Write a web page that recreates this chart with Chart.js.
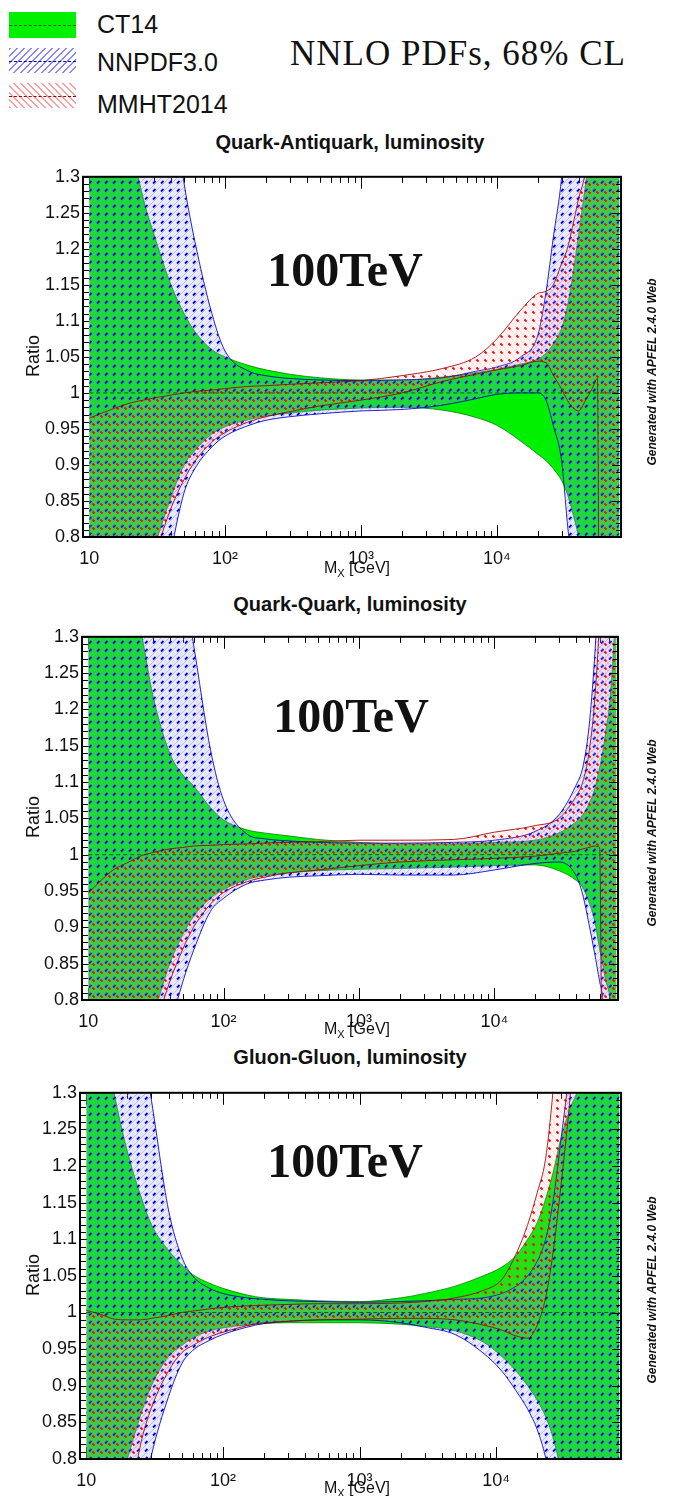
<!DOCTYPE html>
<html>
<head>
<meta charset="utf-8">
<title>NNLO PDFs, 68% CL - 100 TeV luminosity ratios</title>
<script src="https://cdn.jsdelivr.net/npm/chart.js@4.4.1/dist/chart.umd.min.js"></script>
<style>
  html, body { margin: 0; padding: 0; background: #fff; }
  body { position: relative; width: 684px; height: 1496px; overflow: hidden;
         font-family: "Liberation Sans", Arial, sans-serif; color: #111; }
  canvas { position: absolute; left: 0; }
  .t { position: absolute; white-space: nowrap; line-height: 1; }
  .swatch { position: absolute; left: 9px; width: 67px; }
  .swatch i { position: absolute; left: 0; right: 0; top: 50%; border-top: 1.5px dashed; }
  .legend { left: 97px; font-size: 25px; }
  .nnlo { left: 290px; top: 34px; font: 35px "Liberation Serif", serif; letter-spacing: 1px; }
  .title { left: 350px; font-size: 20px; font-weight: bold; transform: translateX(-50%); }
  .energy { font: bold 48px "Liberation Serif", serif; transform: translateX(-50%); }
  .ratio { left: 33px; font-size: 18px; transform: translate(-50%, -50%) rotate(-90deg); }
  .mx { left: 357px; font-size: 16px; transform: translate(-50%, -50%); }
  .mx sub { font-size: 11px; vertical-align: -4px; }
  .apfel { left: 652px; font: italic bold 12px "Liberation Sans", Arial, sans-serif;
           transform: translate(-50%, -50%) rotate(-90deg); }
</style>
</head>
<body>

<div class="swatch" style="top:12px;height:26px;background:rgb(0,240,0)"><i style="border-color:#1f5f1f"></i></div>
<div class="swatch" style="top:48px;height:25px;background:repeating-linear-gradient(135deg,rgba(70,70,255,.65) 0 1.5px,rgba(255,255,255,0) 1.5px 5px)"><i style="border-color:#0000c0"></i></div>
<div class="swatch" style="top:83px;height:25px;background:repeating-linear-gradient(45deg,rgba(255,90,90,.6) 0 1.5px,rgba(255,255,255,0) 1.5px 5px)"><i style="border-color:#a00000"></i></div>
<div class="t legend" style="top:12px">CT14</div>
<div class="t legend" style="top:50px">NNPDF3.0</div>
<div class="t legend" style="top:92px">MMHT2014</div>
<div class="t nnlo">NNLO PDFs, 68% CL</div>

<canvas id="qqbar" width="684" height="411" style="top:163px"></canvas>
<canvas id="qq" width="684" height="414" style="top:623px"></canvas>
<canvas id="gg" width="684" height="417" style="top:1079px"></canvas>

<div class="t title" style="top:132px">Quark-Antiquark, luminosity</div>
<div class="t title" style="top:594px">Quark-Quark, luminosity</div>
<div class="t title" style="top:1047px">Gluon-Gluon, luminosity</div>

<div class="t energy" style="left:345px;top:242px">100TeV</div>
<div class="t energy" style="left:351px;top:688px">100TeV</div>
<div class="t energy" style="left:345px;top:1133px">100TeV</div>

<div class="t ratio" style="top:356px">Ratio</div>
<div class="t ratio" style="top:817px">Ratio</div>
<div class="t ratio" style="top:1275px">Ratio</div>

<div class="t mx" style="top:569px">M<sub>X</sub> [GeV]</div>
<div class="t mx" style="top:1030px">M<sub>X</sub> [GeV]</div>
<div class="t mx" style="top:1489px">M<sub>X</sub> [GeV]</div>

<div class="t apfel" style="top:372px">Generated with APFEL 2.4.0 Web</div>
<div class="t apfel" style="top:833px">Generated with APFEL 2.4.0 Web</div>
<div class="t apfel" style="top:1290px">Generated with APFEL 2.4.0 Web</div>

<script>
// ---------- axes ----------
const massDecades = [10, 100, 1000, 10000];
const massDecadeLabels = ['10', '10\u00b2', '10\u00b3', '10\u2074'];
const ratioTicks = [0.8, 0.85, 0.9, 0.95, 1, 1.05, 1.1, 1.15, 1.2, 1.25, 1.3];
const ratioTickLabels = ['0.8', '0.85', '0.9', '0.95', '1', '1.05', '1.1', '1.15', '1.2', '1.25', '1.3'];
const ct14Ratio = 1; // CT14 central value, ratio to itself

// ---------- Quark-Antiquark ----------
const qqbarMass = [10, 15, 20, 25, 30, 40, 50, 60, 80, 100, 150, 200, 300, 500, 1000, 2000, 4000, 7000,
  10000, 15000, 20000, 23000, 26000, 30000, 33000, 36000, 40000, 45000, 50000, 55000, 57000, 65000, 80000];
const qqbarCT14Up = [1.80, 1.55, 1.36, 1.27, 1.22, 1.15, 1.11, 1.085, 1.06, 1.05, 1.038, 1.032, 1.026, 1.021, 1.018, 1.018, 1.022, 1.028,
  1.033, 1.04, 1.047, 1.055, 1.068, 1.09, 1.12, 1.16, 1.22, 1.29, 1.36, 1.45, 1.5, 1.6, 1.8];
const qqbarCT14Low = [0.55, 0.62, 0.68, 0.74, 0.785, 0.855, 0.9, 0.92, 0.943, 0.953, 0.963, 0.968, 0.972, 0.976, 0.979, 0.98, 0.976, 0.966,
  0.955, 0.933, 0.915, 0.906, 0.895, 0.878, 0.86, 0.835, 0.8, 0.75, 0.7, 0.65, 0.62, 0.55, 0.5];
const qqbarNNPDFUp = [2.5, 2.2, 1.9, 1.75, 1.6, 1.42, 1.29, 1.21, 1.11, 1.058, 1.03, 1.024, 1.02, 1.018, 1.017, 1.018, 1.021, 1.03,
  1.036, 1.05, 1.08, 1.14, 1.215, 1.3, 1.4, 1.5, 1.7, 2, 2, 2, 2, 2, 2];
const qqbarNNPDFLow = [0.3, 0.4, 0.5, 0.58, 0.65, 0.78, 0.862, 0.895, 0.925, 0.94, 0.955, 0.962, 0.967, 0.971, 0.975, 0.977, 0.983, 0.992,
  0.998, 1.0, 1.0, 0.99, 0.955, 0.905, 0.82, 0.75, 0.65, 0.5, 0.5, 0.5, 0.5, 0.5, 0.5];
const qqbarMMHTUp = [0.965, 0.978, 0.986, 0.99, 0.993, 0.997, 1.0, 1.002, 1.004, 1.006, 1.009, 1.01, 1.012, 1.014, 1.017, 1.024, 1.034, 1.05,
  1.075, 1.115, 1.138, 1.141, 1.15, 1.18, 1.2, 1.23, 1.27, 1.31, 1.4, 1.5, 1.5, 1.6, 1.8];
const qqbarMMHTLow = [0.5, 0.58, 0.65, 0.72, 0.77, 0.84, 0.88, 0.905, 0.932, 0.945, 0.96, 0.967, 0.974, 0.982, 0.99, 1.0, 1.016, 1.026,
  1.032, 1.038, 1.044, 1.042, 1.025, 1.005, 0.99, 0.98, 0.975, 0.99, 1.005, 1.02, 0.6, 0.5, 0.45];

// ---------- Quark-Quark ----------
const qqMass = [10, 15, 20, 25, 30, 40, 50, 60, 80, 100, 150, 200, 300, 500, 1000, 2000, 5000, 10000,
  20000, 30000, 40000, 45000, 50000, 55000, 60000, 63000, 66000, 72000, 80000];
const qqCT14Up = [1.8, 1.55, 1.38, 1.3, 1.22, 1.14, 1.11, 1.095, 1.065, 1.048, 1.034, 1.03, 1.026, 1.021, 1.017, 1.015, 1.015, 1.017,
  1.02, 1.03, 1.045, 1.055, 1.07, 1.09, 1.12, 1.14, 1.165, 1.22, 1.35];
const qqCT14Low = [0.5, 0.6, 0.68, 0.73, 0.775, 0.85, 0.89, 0.915, 0.94, 0.952, 0.966, 0.971, 0.975, 0.978, 0.98, 0.981, 0.983, 0.985,
  0.986, 0.978, 0.965, 0.955, 0.935, 0.91, 0.87, 0.85, 0.83, 0.8, 0.72];
const qqNNPDFUp = [2.5, 2.2, 1.95, 1.8, 1.67, 1.5, 1.38, 1.29, 1.145, 1.075, 1.028, 1.022, 1.019, 1.017, 1.016, 1.016, 1.017, 1.02,
  1.032, 1.055, 1.095, 1.12, 1.175, 1.27, 1.4, 1.5, 1.7, 1.9, 2.2];
const qqNNPDFLow = [0.3, 0.42, 0.52, 0.6, 0.66, 0.76, 0.825, 0.868, 0.922, 0.94, 0.96, 0.965, 0.969, 0.971, 0.973, 0.972, 0.972, 0.979,
  0.988, 0.99, 0.972, 0.945, 0.905, 0.865, 0.825, 0.8, 0.7, 0.55, 0.4];
const qqMMHTUp = [0.947, 0.978, 0.99, 0.999, 1.003, 1.008, 1.01, 1.012, 1.013, 1.014, 1.015, 1.016, 1.017, 1.018, 1.02, 1.02, 1.021, 1.031,
  1.04, 1.05, 1.08, 1.1, 1.14, 1.21, 1.33, 1.45, 1.6, 1.8, 2.0];
const qqMMHTLow = [0.45, 0.55, 0.63, 0.7, 0.75, 0.825, 0.87, 0.9, 0.932, 0.948, 0.963, 0.969, 0.975, 0.979, 0.985, 0.99, 0.993, 0.995,
  0.998, 1.002, 1.005, 1.008, 1.01, 1.012, 1.01, 0.6, 0.5, 0.45, 0.4];

// ---------- Gluon-Gluon ----------
const ggMass = [10, 13, 16, 20, 25, 30, 40, 50, 60, 80, 100, 150, 200, 300, 500, 1000, 2000, 3000, 5000, 8000,
  11000, 14000, 17000, 20000, 23000, 26000, 30000, 35000, 40000, 50000, 65000, 80000];
const ggCT14Up = [1.6, 1.4, 1.3, 1.22, 1.16, 1.12, 1.085, 1.065, 1.052, 1.04, 1.033, 1.024, 1.02, 1.018, 1.016, 1.015, 1.02, 1.026, 1.036, 1.05,
  1.062, 1.078, 1.1, 1.123, 1.155, 1.19, 1.24, 1.28, 1.31, 1.45, 1.6, 1.8];
const ggCT14Low = [0.6, 0.68, 0.74, 0.8, 0.86, 0.9, 0.94, 0.955, 0.965, 0.975, 0.979, 0.983, 0.985, 0.986, 0.986, 0.986, 0.984, 0.981, 0.975, 0.96,
  0.94, 0.92, 0.9, 0.88, 0.858, 0.83, 0.78, 0.7, 0.6, 0.5, 0.4, 0.3];
const ggNNPDFUp = [2.2, 1.9, 1.7, 1.52, 1.38, 1.29, 1.14, 1.076, 1.05, 1.033, 1.026, 1.02, 1.018, 1.016, 1.015, 1.014, 1.015, 1.016, 1.018, 1.02,
  1.026, 1.036, 1.05, 1.07, 1.1, 1.15, 1.24, 1.35, 1.5, 1.8, 2.0, 2.2];
const ggNNPDFLow = [0.3, 0.4, 0.5, 0.6, 0.73, 0.805, 0.885, 0.93, 0.948, 0.962, 0.97, 0.98, 0.985, 0.988, 0.99, 0.99, 0.986, 0.98, 0.97, 0.945,
  0.92, 0.893, 0.868, 0.84, 0.802, 0.75, 0.65, 0.55, 0.45, 0.35, 0.3, 0.2];
const ggMMHTUp = [1.003, 0.997, 0.991, 0.99, 0.99, 0.992, 0.996, 1.0, 1.002, 1.005, 1.007, 1.009, 1.01, 1.011, 1.012, 1.012, 1.013, 1.015, 1.02, 1.03,
  1.045, 1.08, 1.12, 1.164, 1.21, 1.3, 1.45, 1.6, 1.8, 2.0, 2.2, 2.4];
const ggMMHTLow = [0.45, 0.55, 0.63, 0.72, 0.82, 0.87, 0.92, 0.945, 0.955, 0.967, 0.973, 0.982, 0.986, 0.988, 0.99, 0.991, 0.992, 0.992, 0.99, 0.983,
  0.976, 0.968, 0.965, 0.983, 1.02, 1.08, 1.178, 1.3, 1.45, 1.7, 1.9, 2.1];

// ---------- drawing ----------
Chart.defaults.font.family = '"Liberation Sans", Arial, sans-serif';
Chart.defaults.color = '#111';

const AXIS_H = 37;   // room below each frame for the tick labels
const massTicks = [];
massDecades.forEach(d => { for (let k = 1; k <= 9; k++) if (d * k <= 82000) massTicks.push(d * k); });

// ROOT-like hatch: faint tint, thin diagonal hatch and a short dark dash
function makeHatch(tint, hatch, mark, slope) {
  const s = 8;
  const c = document.createElement('canvas');
  c.width = s; c.height = s;
  const g = c.getContext('2d');
  g.fillStyle = tint;
  g.fillRect(0, 0, s, s);
  g.lineWidth = 1;
  g.strokeStyle = hatch;
  g.beginPath();
  for (let k = -s; k <= s; k += s) {
    if (slope > 0) { g.moveTo(k, s); g.lineTo(k + s, 0); }
    else { g.moveTo(k, 0); g.lineTo(k + s, s); }
  }
  g.stroke();
  g.lineWidth = 1.8;
  g.strokeStyle = mark;
  g.beginPath();
  if (slope > 0) { g.moveTo(1, 4.5); g.lineTo(3.5, 2); }
  else { g.moveTo(4.5, 4.5); g.lineTo(6.5, 6.5); }
  g.stroke();
  return g.createPattern(c, 'repeat');
}

const styles = {
  ct14: { fill: 'rgb(0,240,0)', edge: 'rgba(0,110,0,0.7)', order: 3 },
  nnpdf: { fill: makeHatch('rgba(140,140,255,0.2)', 'rgba(110,110,255,0.4)', 'rgb(0,0,230)', 1),
           edge: 'rgba(0,0,200,0.85)', order: 2 },
  mmht: { fill: makeHatch('rgba(255,150,150,0.12)', 'rgba(255,110,110,0.2)', 'rgb(250,0,0)', -1),
          edge: 'rgba(160,0,0,0.85)', order: 1 }
};

function band(label, mass, up, low, st) {
  const pts = vals => mass.map((m, i) => ({ x: m, y: vals[i] }));
  const common = { borderColor: st.edge, borderWidth: 1, pointRadius: 0, order: st.order,
                   cubicInterpolationMode: 'monotone' };
  return [
    Object.assign({ label: label + ' upper', data: pts(up), fill: false }, common),
    Object.assign({ label: label + ' lower', data: pts(low), fill: '-1', backgroundColor: st.fill }, common)
  ];
}

const rootFrame = {
  id: 'rootFrame',
  beforeDatasetsDraw(chart) {
    const { ctx, chartArea: a, scales: { x, y } } = chart;
    ctx.save();
    ctx.strokeStyle = '#000';
    ctx.lineWidth = 1;
    ctx.beginPath();
    x.ticks.forEach(t => {
      const px = Math.round(x.getPixelForValue(t.value)) + 0.5;
      const len = massDecades.includes(t.value) ? 12 : 6;
      ctx.moveTo(px, a.bottom); ctx.lineTo(px, a.bottom - len);
      ctx.moveTo(px, a.top); ctx.lineTo(px, a.top + len);
    });
    for (let i = 0; i <= 50; i++) {
      const py = Math.round(y.getPixelForValue(0.8 + i * 0.01)) + 0.5;
      ctx.moveTo(a.left, py); ctx.lineTo(a.left + (i % 5 === 0 ? 12 : 6), py);
    }
    ctx.stroke();
    ctx.restore();
  },
  afterDatasetsDraw(chart) {
    const { ctx, chartArea: a, scales: { y } } = chart;
    ctx.save();
    ctx.strokeStyle = '#000';
    ctx.lineWidth = 1;
    ctx.beginPath();
    for (let i = 0; i <= 50; i++) {
      const py = Math.round(y.getPixelForValue(0.8 + i * 0.01)) + 0.5;
      ctx.moveTo(a.right, py); ctx.lineTo(a.right - (i % 5 === 0 ? 9 : 5), py);
    }
    ctx.stroke();
    ctx.lineWidth = 2;
    ctx.strokeRect(a.left, a.top, a.right - a.left, a.bottom - a.top);
    ctx.restore();
  }
};

function makePanel(id, frameLeft, frameRight, mass, ct14, nnpdf, mmht) {
  const datasets = [
    { label: 'CT14 central', data: [{ x: mass[0], y: ct14Ratio }, { x: mass[mass.length - 1], y: ct14Ratio }],
      borderColor: 'rgba(0,70,0,0.8)', borderWidth: 1, borderDash: [4, 3], pointRadius: 0, fill: false, order: 0 },
    ...band('CT14', mass, ct14[0], ct14[1], styles.ct14),
    ...band('NNPDF3.0', mass, nnpdf[0], nnpdf[1], styles.nnpdf),
    ...band('MMHT2014', mass, mmht[0], mmht[1], styles.mmht)
  ];
  return new Chart(document.getElementById(id), {
    type: 'line',
    data: { datasets },
    options: {
      responsive: false,
      animation: false,
      devicePixelRatio: 1,
      layout: { padding: { top: 12, right: 684 - frameRight, left: 0, bottom: 0 } },
      plugins: { legend: { display: false }, tooltip: { enabled: false } },
      scales: {
        x: {
          type: 'logarithmic', min: 9, max: 82000,
          grid: { display: false, drawTicks: false }, border: { display: false },
          afterBuildTicks: s => { s.ticks = massTicks.map(v => ({ value: v })); },
          afterFit: s => { s.height = AXIS_H; },
          ticks: {
            autoSkip: false, maxRotation: 0, minRotation: 0, padding: 11, color: '#111',
            font: { size: 18 },
            callback: v => { const k = massDecades.indexOf(v); return k < 0 ? '' : massDecadeLabels[k]; }
          }
        },
        y: {
          type: 'linear', min: 0.8, max: 1.3,
          grid: { display: false, drawTicks: false }, border: { display: false },
          afterBuildTicks: s => { s.ticks = ratioTicks.map(v => ({ value: v })); },
          afterFit: s => { s.width = frameLeft; },
          ticks: {
            autoSkip: false, padding: 3, color: '#111', font: { size: 18 },
            callback: (v, i) => ratioTickLabels[i]
          }
        }
      }
    },
    plugins: [rootFrame]
  });
}

makePanel('qqbar', 83, 621, qqbarMass,
  [qqbarCT14Up, qqbarCT14Low], [qqbarNNPDFUp, qqbarNNPDFLow], [qqbarMMHTUp, qqbarMMHTLow]);
makePanel('qq', 82, 618, qqMass,
  [qqCT14Up, qqCT14Low], [qqNNPDFUp, qqNNPDFLow], [qqMMHTUp, qqMMHTLow]);
makePanel('gg', 80, 621, ggMass,
  [ggCT14Up, ggCT14Low], [ggNNPDFUp, ggNNPDFLow], [ggMMHTUp, ggMMHTLow]);
</script>
</body>
</html>
